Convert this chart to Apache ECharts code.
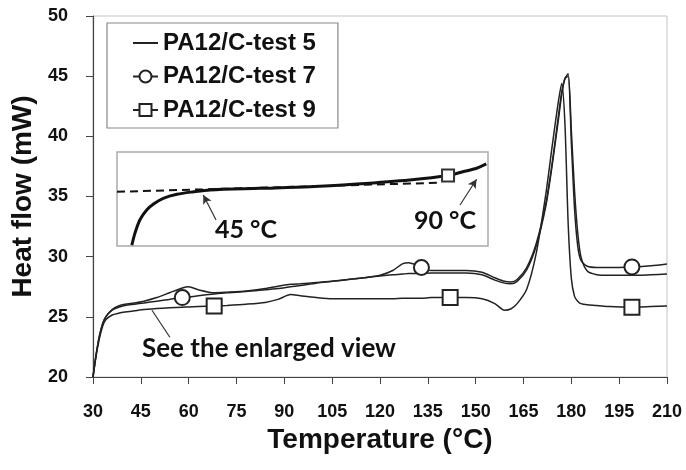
<!DOCTYPE html>
<html>
<head>
<meta charset="utf-8">
<script src="https://cdn.jsdelivr.net/npm/echarts@6/dist/echarts.min.js"></script>
<style>
  html, body { margin: 0; background: #fff; }
  #chart { width: 686px; height: 470px; }
</style>
</head>
<body>
<div id="chart"></div>
<script>
// temperature (°C) shared by the three DSC runs
const temps = [30, 31, 32, 33, 34, 36, 38, 40, 43, 46, 50, 54, 58, 60, 63, 68, 72, 78, 84, 88,
  92, 95, 100, 105, 110, 115, 120, 124, 127, 129, 131, 133, 136, 142, 147, 152, 156, 159, 161, 163,
  166, 169, 172, 174, 176, 177, 178, 179, 180, 181, 182, 183, 185, 188, 192, 199, 205, 210];

// heat flow (mW)
const flowTest5 = [20.0, 21.9, 23.4, 24.4, 25.0, 25.6, 25.9, 26.05, 26.15, 26.3, 26.6, 27.0, 27.4, 27.5, 27.25, 27.0, 27.05, 27.15, 27.35, 27.55,
  27.7, 27.75, 27.85, 27.95, 28.1, 28.25, 28.4, 28.5, 28.55, 28.6, 28.6, 28.6, 28.65, 28.65, 28.65, 28.5, 28.05, 27.8, 27.75, 27.95,
  28.9, 30.9, 34.2, 37.6, 41.5, 43.5, 44.8, 45.2, 40.5, 35.5, 32.0, 30.0, 28.8, 28.5, 28.45, 28.45, 28.5, 28.55];
const flowTest7 = [20.0, 21.9, 23.4, 24.4, 25.0, 25.55, 25.8, 25.95, 26.05, 26.15, 26.3, 26.45, 26.6, 26.65, 26.75, 26.9, 27.0, 27.1, 27.25, 27.35,
  27.5, 27.6, 27.8, 27.95, 28.1, 28.25, 28.45, 28.85, 29.4, 29.5, 29.35, 29.1, 28.85, 28.85, 28.85, 28.7, 28.25, 27.95, 27.9, 28.1,
  29.1, 31.1, 34.4, 37.8, 41.8, 43.7, 44.8, 45.0, 39.5, 34.0, 30.9, 29.7, 29.2, 29.1, 29.1, 29.15, 29.25, 29.4];
const flowTest9 = [20.0, 21.8, 23.2, 24.2, 24.75, 25.15, 25.3, 25.4, 25.5, 25.6, 25.7, 25.75, 25.8, 25.82, 25.85, 25.9, 25.95, 26.05, 26.2, 26.45,
  26.85, 26.75, 26.6, 26.5, 26.5, 26.5, 26.5, 26.5, 26.55, 26.55, 26.55, 26.55, 26.6, 26.6, 26.6, 26.5, 26.1, 25.55, 25.65, 26.1,
  27.3, 30.3, 35.2, 39.2, 43.0, 44.4, 41.0, 32.8, 28.2, 26.7, 26.3, 26.1, 26.0, 25.95, 25.85, 25.8, 25.85, 25.9];

// where the open markers sit
const circleAt = [58, 133, 199];
const squareAt = [68, 142, 199];

// axis ticks
const xTicks = [30, 45, 60, 75, 90, 105, 120, 135, 150, 165, 180, 195, 210];
const yTicks = [20, 25, 30, 35, 40, 45, 50];

// enlarged view of test 9 (inset)
const insetTemps = [32.6, 33.15, 34.0, 35.2, 36.4, 38.1, 40.5, 43.4, 46.3, 55, 63.8, 72, 81.3, 88, 90.6, 93.0, 94.7];
const insetFlow = [24.03, 24.41, 24.83, 25.15, 25.34, 25.52, 25.65, 25.73, 25.79, 25.84, 25.89, 25.98, 26.11, 26.25, 26.37, 26.48, 26.62];
const baseTemps = [30, 86.6];
const baseFlow = [25.73, 26.02];
const insetSquareAt = [88];

const names = ['PA12/C-test 5', 'PA12/C-test 7', 'PA12/C-test 9'];

function build(xs, ys, marks) {
  return xs.map((t, i) => marks.includes(t) ? [t, ys[i]] : { value: [t, ys[i]], symbol: 'none' });
}

const ink = '#222';
const chart = echarts.init(document.getElementById('chart'));

const option = {
  animation: false,
  backgroundColor: '#fff',
  textStyle: { fontFamily: 'Liberation Sans, Arial, sans-serif' },
  grid: [
    { left: 93, top: 16, right: 19, bottom: 93, show: true, borderColor: '#c4c4c4', borderWidth: 1 },
    { left: 117, top: 152, width: 371, height: 94, show: true, borderColor: '#aaa', borderWidth: 1.5, backgroundColor: '#fff' }
  ],
  xAxis: [
    {
      type: 'value', min: xTicks[0], max: xTicks[xTicks.length - 1], interval: xTicks[1] - xTicks[0],
      name: 'Temperature (°C)', nameLocation: 'middle', nameGap: 42,
      nameTextStyle: { fontSize: 28, fontWeight: 'bold', color: '#111' },
      axisLine: { lineStyle: { color: '#444', width: 1.2 } },
      axisTick: { length: 7, lineStyle: { color: '#444' } },
      axisLabel: { fontSize: 18, fontWeight: 'bold', color: '#111', margin: 26 },
      splitLine: { show: false }
    },
    { gridIndex: 1, type: 'value', min: 30, max: 95, show: false }
  ],
  yAxis: [
    {
      type: 'value', min: yTicks[0], max: yTicks[yTicks.length - 1], interval: yTicks[1] - yTicks[0],
      name: 'Heat flow (mW)', nameLocation: 'middle', nameGap: 50,
      nameTextStyle: { fontSize: 28, fontWeight: 'bold', color: '#111' },
      axisLine: { show: true, lineStyle: { color: '#444', width: 1.2 } },
      axisTick: { show: true, length: 7, lineStyle: { color: '#444' } },
      axisLabel: { fontSize: 18, fontWeight: 'bold', color: '#111', margin: 25 },
      splitLine: { show: false }
    },
    { gridIndex: 1, type: 'value', min: 24, max: 27, show: false }
  ],
  legend: {
    left: 107, top: 23, orient: 'vertical',
    borderColor: '#888', borderWidth: 1.2,
    padding: [8, 22, 6, 25],
    itemWidth: 25, itemHeight: 15, itemGap: 9.5,
    textStyle: { fontSize: 24, fontWeight: 'bold', color: '#111', lineHeight: 24 },
    data: [
      { name: names[0], itemStyle: { opacity: 0 } },
      { name: names[1] },
      { name: names[2] }
    ]
  },
  graphic: [
    { type: 'text', x: 142, y: 349, style: { text: 'See the enlarged view', font: 'bold 26px Lato', fill: '#111', verticalAlign: 'middle' } },
    { type: 'text', x: 246, y: 230, style: { text: '45 °C', font: 'bold 25px Lato', fill: '#111', align: 'center', verticalAlign: 'middle' } },
    { type: 'text', x: 445, y: 221, style: { text: '90 °C', font: 'bold 25px Lato', fill: '#111', align: 'center', verticalAlign: 'middle' } }
  ],
  series: [
    {
      name: names[0], type: 'line', smooth: 0.25, showAllSymbol: true,
      symbol: 'none', data: build(temps, flowTest5, []),
      lineStyle: { color: ink, width: 1.5 }, itemStyle: { color: ink }
    },
    {
      name: names[1], type: 'line', smooth: 0.25, showAllSymbol: true,
      symbol: 'emptyCircle', symbolSize: 15, data: build(temps, flowTest7, circleAt),
      lineStyle: { color: ink, width: 1.5 }, itemStyle: { color: ink, borderWidth: 1.8 }
    },
    {
      name: names[2], type: 'line', smooth: 0.25, showAllSymbol: true,
      symbol: 'emptyRect', symbolSize: 15, data: build(temps, flowTest9, squareAt),
      lineStyle: { color: ink, width: 1.5 }, itemStyle: { color: ink, borderWidth: 1.8 },
      markLine: {
        silent: true, symbol: ['none', 'none'], label: { show: false },
        lineStyle: { color: '#333', width: 1.2, type: 'solid' },
        data: [[{ coord: [54.1, 23.3] }, { coord: [48.5, 25.55] }]]
      }
    },
    {
      type: 'line', xAxisIndex: 1, yAxisIndex: 1, showSymbol: false,
      data: baseTemps.map((t, i) => [t, baseFlow[i]]),
      lineStyle: { color: '#111', width: 2, type: [8, 5] }
    },
    {
      type: 'line', xAxisIndex: 1, yAxisIndex: 1, smooth: 0.3, showAllSymbol: true,
      symbol: 'emptyRect', symbolSize: 12,
      data: build(insetTemps, insetFlow, insetSquareAt),
      lineStyle: { color: '#111', width: 3 }, itemStyle: { color: '#333', borderWidth: 1.5 },
      markLine: {
        silent: true, symbol: ['none', 'arrow'], symbolSize: [7, 9], label: { show: false },
        lineStyle: { color: '#333', width: 1.2, type: 'solid' },
        data: [
          [{ coord: [47.35, 24.83] }, { coord: [45.12, 25.63] }],
          [{ coord: [90.1, 25.31] }, { coord: [93.0, 26.13] }]
        ]
      }
    }
  ]
};

chart.setOption(option);
</script>
</body>
</html>
